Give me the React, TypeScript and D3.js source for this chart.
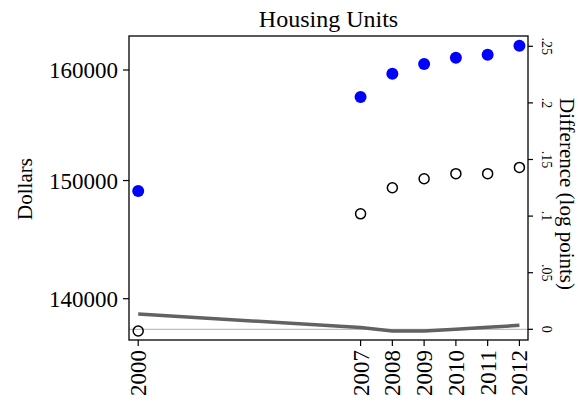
import React from "react";
import * as d3 from "d3";

const years = [2000, 2007, 2008, 2009, 2010, 2011, 2012];
const dollars = [149090, 157500, 159650, 160560, 161150, 161430, 162290];
const diffPoints = [-0.0015, 0.102, 0.125, 0.133, 0.1375, 0.1375, 0.143];
const diffLine = [0.0135, 0.0016, -0.0015, -0.0015, 0.0, 0.0018, 0.0035];
const leftTicks = [140000, 150000, 160000];
const rightTicks = [0, 0.05, 0.1, 0.15, 0.2, 0.25];
const rightTickLabels = ["0", ".05", ".1", ".15", ".2", ".25"];

const W = 578;
const H = 403;
const L = 129, R = 528, T = 36, B = 340;
const FONT = "'Liberation Serif', 'Times New Roman', serif";

export default function App() {
  const x = d3.scaleLinear().domain([1999.71, 2012.27]).range([L, R]);
  const yL = d3.scaleLog().domain([136665, 163208]).range([B, T]);
  const yR = d3.scaleLinear().domain([-0.00945, 0.2591]).range([B, T]);
  const line = d3
    .line<number>()
    .x((_, i) => x(years[i]))
    .y((d) => yR(d));

  return (
    <div style={{ position: "absolute", left: 0, top: 0 }}>
      <svg width={W} height={H} style={{ display: "block", background: "#fff" }} fontFamily={FONT}>
        <rect x={0} y={0} width={W} height={H} fill="#fff" />
        {/* zero reference line */}
        <line x1={L} x2={R} y1={yR(0)} y2={yR(0)} stroke="#bdbdbd" strokeWidth={1.2} />
        {/* gray difference line */}
        <path d={line(diffLine) || ""} fill="none" stroke="#626262" strokeWidth={3.5} strokeLinejoin="round" />
        {/* hollow circles */}
        {diffPoints.map((d, i) => (
          <circle key={"h" + i} cx={x(years[i])} cy={yR(d)} r={5} fill="none" stroke="#000" strokeWidth={1.5} />
        ))}
        {/* blue dots */}
        {dollars.map((d, i) => (
          <circle key={"b" + i} cx={x(years[i])} cy={yL(d)} r={6} fill="#0000ff" />
        ))}
        {/* frame */}
        <rect x={L} y={T} width={R - L} height={B - T} fill="none" stroke="#000" strokeWidth={1.3} />
        {/* left axis */}
        {leftTicks.map((t) => (
          <g key={"l" + t}>
            <line x1={L - 6} x2={L} y1={yL(t)} y2={yL(t)} stroke="#000" strokeWidth={1.2} />
            <text x={L - 11} y={yL(t)} dy="0.35em" textAnchor="end" fontSize={23}>
              {t}
            </text>
          </g>
        ))}
        {/* right axis */}
        {rightTicks.map((t, i) => (
          <g key={"r" + t}>
            <line x1={R} x2={R + 5} y1={yR(t)} y2={yR(t)} stroke="#000" strokeWidth={1.2} />
            <text
              transform={`translate(${R + 14},${yR(t)}) rotate(90)`}
              textAnchor="middle"
              fontSize={14}
            >
              {rightTickLabels[i]}
            </text>
          </g>
        ))}
        {/* bottom axis */}
        {years.map((yr) => (
          <g key={"x" + yr}>
            <line x1={x(yr)} x2={x(yr)} y1={B} y2={B + 6} stroke="#000" strokeWidth={1.2} />
            <text
              transform={`translate(${x(yr) + 8},${B + 10}) rotate(-90)`}
              textAnchor="end"
              fontSize={23}
            >
              {yr}
            </text>
          </g>
        ))}
        {/* titles */}
        <text x={(L + R) / 2} y={27} textAnchor="middle" fontSize={24}>
          Housing Units
        </text>
        <text transform={`translate(32,189) rotate(-90)`} textAnchor="middle" fontSize={21}>
          Dollars
        </text>
        <text transform={`translate(560,194) rotate(90)`} textAnchor="middle" fontSize={21}>
          Difference (log points)
        </text>
      </svg>
    </div>
  );
}
